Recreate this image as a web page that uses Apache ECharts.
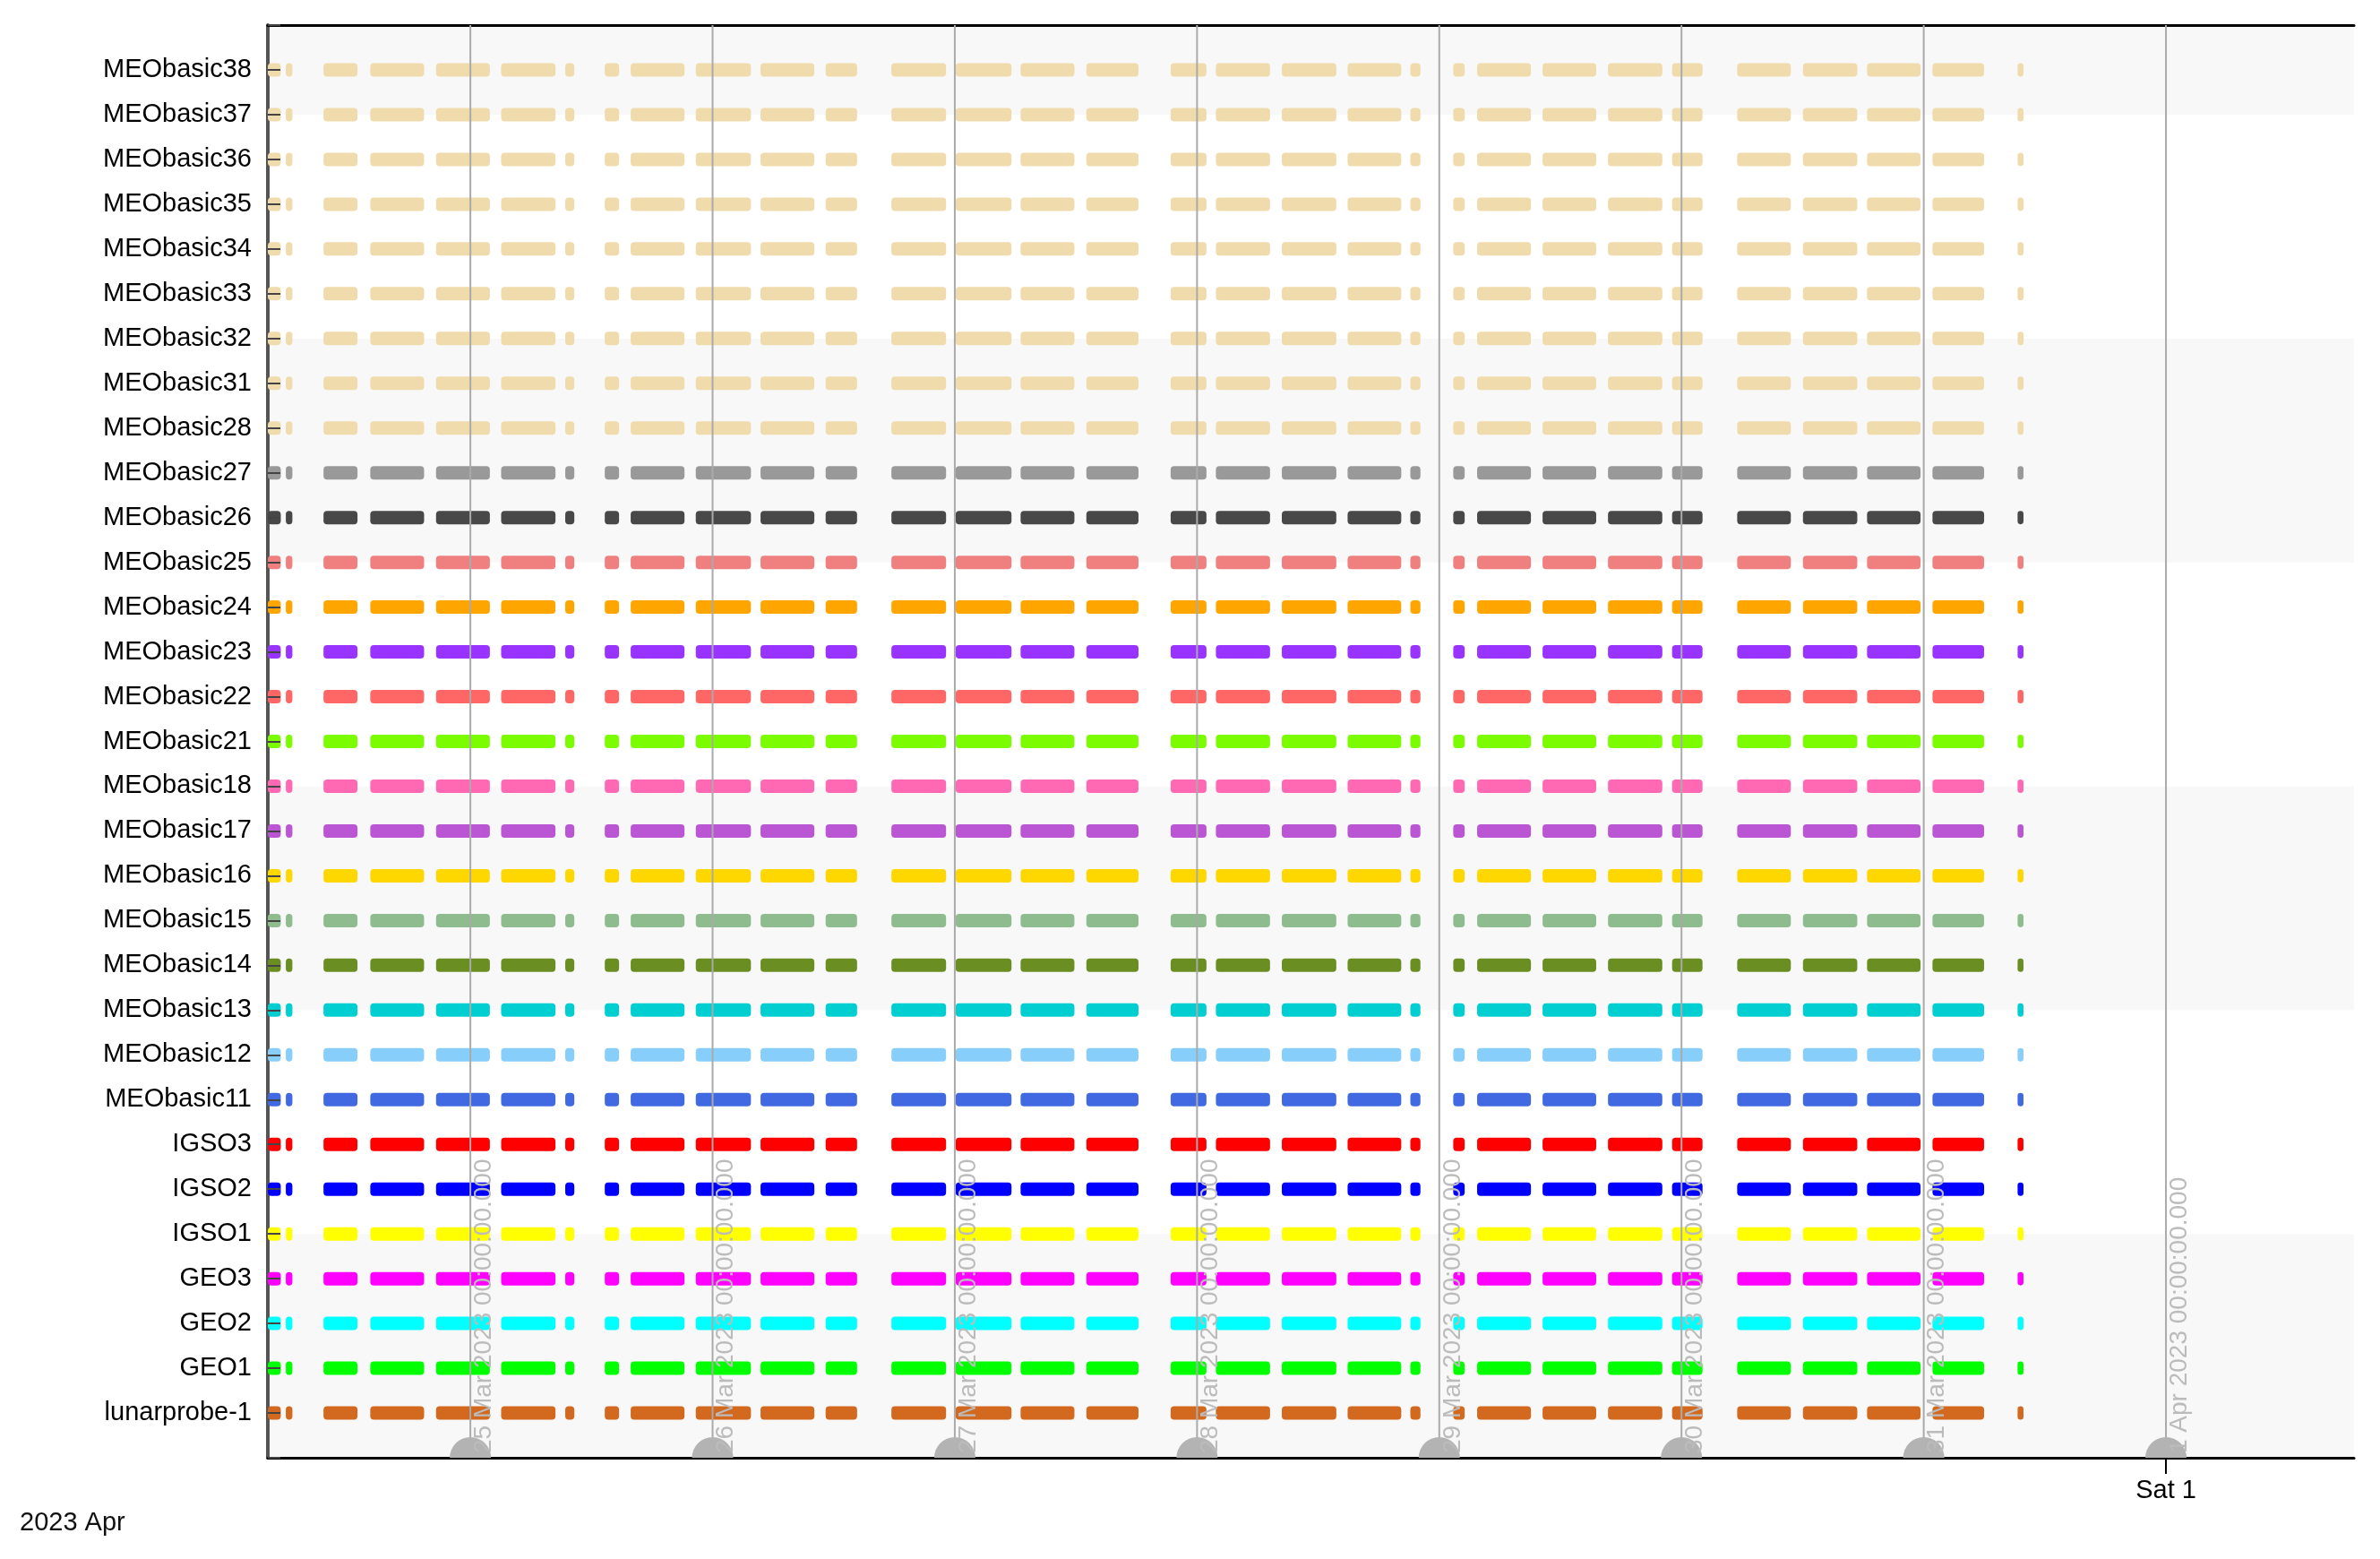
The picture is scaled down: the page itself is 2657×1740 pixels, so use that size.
<!DOCTYPE html>
<html>
<head>
<meta charset="utf-8">
<title>Satellite pass timeline</title>
<script src="https://cdn.jsdelivr.net/npm/echarts@6/dist/echarts.min.js"></script>
<style>
  html, body { margin: 0; padding: 0; background: #fff; }
  #chart { width: 2657px; height: 1740px; }
</style>
</head>
<body>
<div id="chart"></div>
<script>
  // rows as they appear, top to bottom
  var rows = ['MEObasic38', 'MEObasic37', 'MEObasic36', 'MEObasic35', 'MEObasic34', 'MEObasic33',
    'MEObasic32', 'MEObasic31', 'MEObasic28', 'MEObasic27', 'MEObasic26', 'MEObasic25', 'MEObasic24',
    'MEObasic23', 'MEObasic22', 'MEObasic21', 'MEObasic18', 'MEObasic17', 'MEObasic16', 'MEObasic15',
    'MEObasic14', 'MEObasic13', 'MEObasic12', 'MEObasic11', 'IGSO3', 'IGSO2', 'IGSO1', 'GEO3', 'GEO2',
    'GEO1', 'lunarprobe-1'];
  var rowColors = ['#efdbab', '#efdbab', '#efdbab', '#efdbab', '#efdbab', '#efdbab', '#efdbab', '#efdbab',
    '#efdbab', '#999999', '#484848', '#f08080', '#ffa500', '#9933ff', '#ff6666', '#7cfc00', '#ff69b4',
    '#ba55d3', '#ffd700', '#8fbc8f', '#6b8e23', '#00ced1', '#87cefa', '#4169e1', '#ff0000', '#0000ff',
    '#ffff00', '#ff00ff', '#00ffff', '#00ff00', '#d2691e'];

  // visibility windows (UTC, 2023), the same for every row
  var passes = [
    ['03-24 03:40', '03-24 05:13'], ['03-24 05:43', '03-24 06:22'], ['03-24 09:27', '03-24 12:49'],
    ['03-24 14:05', '03-24 19:25'], ['03-24 20:36', '03-25 01:56'], ['03-25 03:03', '03-25 08:26'],
    ['03-25 09:24', '03-25 10:18'], ['03-25 13:19', '03-25 14:44'], ['03-25 15:53', '03-25 21:13'],
    ['03-25 22:20', '03-26 03:48'], ['03-26 04:45', '03-26 10:05'], ['03-26 11:12', '03-26 14:19'],
    ['03-26 17:43', '03-26 23:08'], ['03-27 00:05', '03-27 05:37'], ['03-27 06:31', '03-27 11:51'],
    ['03-27 13:02', '03-27 18:12'], ['03-27 21:23', '03-28 00:56'], ['03-28 01:52', '03-28 07:14'],
    ['03-28 08:24', '03-28 13:48'], ['03-28 14:55', '03-28 20:14'], ['03-28 21:08', '03-28 22:08'],
    ['03-29 01:23', '03-29 02:31'], ['03-29 03:45', '03-29 09:05'], ['03-29 10:14', '03-29 15:33'],
    ['03-29 16:43', '03-29 22:06'], ['03-29 23:04', '03-30 02:05'], ['03-30 05:31', '03-30 10:50'],
    ['03-30 12:02', '03-30 17:25'], ['03-30 18:23', '03-30 23:41'], ['03-31 00:52', '03-31 05:59'],
    ['03-31 09:18', '03-31 09:53']
  ];

  var dayMarks = ['03-25 00:00', '03-26 00:00', '03-27 00:00', '03-28 00:00', '03-29 00:00',
    '03-30 00:00', '03-31 00:00', '04-01 00:00'];
  var xTicks = ['04-01 00:00'];
  var xTickLabels = ['Sat 1'];
  var monthLabel = '2023 Apr';
  var viewStart = '03-24 03:56', viewEnd = '04-01 18:38';
  var yMin = -1, yMax = 31;

  var FONT = '"Liberation Sans", Arial, sans-serif';
  var MONTHS = ['Jan', 'Feb', 'Mar', 'Apr', 'May', 'Jun', 'Jul', 'Aug', 'Sep', 'Oct', 'Nov', 'Dec'];

  function t(s) {
    return Date.parse('2023-' + s.replace(' ', 'T') + ':00Z');
  }
  function pad(n, w) {
    n = String(n);
    while (n.length < w) n = '0' + n;
    return n;
  }
  function stamp(ms) {
    var d = new Date(ms);
    return d.getUTCDate() + ' ' + MONTHS[d.getUTCMonth()] + ' ' + d.getUTCFullYear() + ' ' +
      pad(d.getUTCHours(), 2) + ':' + pad(d.getUTCMinutes(), 2) + ':' + pad(d.getUTCSeconds(), 2) +
      '.' + pad(d.getUTCMilliseconds(), 3);
  }

  var passData = [];
  rows.forEach(function (name, i) {
    passes.forEach(function (p) {
      passData.push([rows.length - 1 - i, t(p[0]), t(p[1]), i]);
    });
  });
  var dayData = dayMarks.map(function (s) { return [t(s)]; });
  var tickValues = xTicks.map(t);

  function renderPass(params, api) {
    var y = api.value(0);
    var p0 = api.coord([api.value(1), y]);
    var p1 = api.coord([api.value(2), y]);
    var h = 15;
    var rect = echarts.graphic.clipRectByRect(
      { x: p0[0], y: p0[1] - h / 2, width: p1[0] - p0[0], height: h },
      { x: params.coordSys.x, y: params.coordSys.y, width: params.coordSys.width, height: params.coordSys.height }
    );
    if (!rect) return;
    rect.r = 4;
    return { type: 'rect', shape: rect, style: { fill: rowColors[api.value(3)] } };
  }

  function renderDay(params, api) {
    var x = api.value(0);
    var top = api.coord([x, yMax]);
    var bot = api.coord([x, yMin]);
    return {
      type: 'group',
      children: [
        { type: 'line', shape: { x1: top[0], y1: top[1], x2: bot[0], y2: bot[1] },
          style: { stroke: '#aaaaaa', lineWidth: 2 } },
        { type: 'sector', shape: { cx: bot[0], cy: bot[1], r: 23, r0: 0, startAngle: Math.PI, endAngle: Math.PI * 2 },
          style: { fill: '#b3b3b3' } },
        { type: 'text', x: bot[0] + 15, y: bot[1] - 5, rotation: Math.PI / 2,
          style: { text: stamp(x), fill: '#bbbbbb', font: '28px ' + FONT,
            align: 'left', verticalAlign: 'middle', textAlign: 'left', textVerticalAlign: 'middle' } }
      ]
    };
  }

  var chart = echarts.init(document.getElementById('chart'));
  chart.setOption({
    animation: false,
    backgroundColor: '#fff',
    title: {
      text: monthLabel, left: 22, top: 1685, padding: 0,
      textStyle: { fontFamily: FONT, fontSize: 29, fontWeight: 'normal', color: '#111' }
    },
    grid: { left: 299, right: 29, top: 28, bottom: 113 },
    xAxis: [{
      type: 'value', position: 'bottom', min: t(viewStart), max: t(viewEnd),
      axisLine: { onZero: false, lineStyle: { color: '#000', width: 3 } },
      axisTick: { show: true, customValues: tickValues, length: 18, lineStyle: { color: '#000', width: 2 } },
      axisLabel: {
        customValues: tickValues, margin: 22, fontFamily: FONT, fontSize: 29, color: '#000',
        showMinLabel: false, showMaxLabel: false,
        formatter: function (v) {
          var k = tickValues.indexOf(+v);
          return k < 0 ? '' : xTickLabels[k];
        }
      },
      splitLine: { show: false }
    }, {
      type: 'value', position: 'top', min: t(viewStart), max: t(viewEnd),
      axisLine: { onZero: false, lineStyle: { color: '#000', width: 3 } },
      axisTick: { show: false }, axisLabel: { show: false }, splitLine: { show: false }
    }],
    yAxis: [{
      type: 'value', min: yMin, max: yMax, interval: 5,
      axisLine: { show: true, onZero: false, lineStyle: { color: '#555', width: 4 } },
      axisTick: { show: false }, axisLabel: { show: false },
      splitLine: { show: false },
      splitArea: { show: true, areaStyle: { color: ['#f8f8f8', '#ffffff'] } }
    }, {
      type: 'value', min: yMin, max: yMax, interval: 1, position: 'left', z: 6,
      axisLine: { show: false, onZero: false },
      axisTick: { show: true, inside: true, length: 14, lineStyle: { color: '#444', width: 2 } },
      axisLabel: {
        margin: 18, fontFamily: FONT, fontSize: 29, color: '#000',
        formatter: function (v) {
          var i = rows.length - 1 - Math.round(v);
          return (v >= 0 && v < rows.length) ? rows[i] : '';
        }
      },
      splitLine: { show: false }, splitArea: { show: false }
    }],
    series: [{
      type: 'custom', name: 'passes', xAxisIndex: 0, yAxisIndex: 1, z: 2,
      renderItem: renderPass, encode: { x: [1, 2], y: 0 }, data: passData
    }, {
      type: 'custom', name: 'days', xAxisIndex: 0, yAxisIndex: 1, z: 5, clip: false,
      renderItem: renderDay, encode: { x: 0 }, data: dayData
    }]
  });

  window.onresize = function () { chart.resize(); };
</script>
</body>
</html>
